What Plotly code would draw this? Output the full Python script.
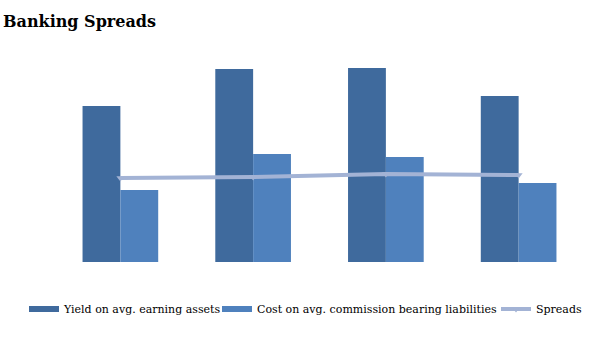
import plotly.graph_objects as go

# Banking spreads by period (percent)
periods = ["P1", "P2", "P3", "P4"]
yield_assets = [7.80, 9.65, 9.70, 8.30]
cost_liabilities = [3.60, 5.40, 5.25, 3.95]
spreads = [4.20, 4.25, 4.40, 4.35]

c_yield = "#3F6A9D"
c_cost = "#4F81BD"
c_spread = "#A3B3D5"
font_family = "DejaVu Serif"

fig = go.Figure()

fig.add_trace(go.Bar(x=periods, y=yield_assets, marker_color=c_yield,
                     marker_line_width=0, offsetgroup="a", showlegend=False,
                     name="Yield on avg. earning assets"))
fig.add_trace(go.Bar(x=periods, y=cost_liabilities, marker_color=c_cost,
                     marker_line_width=0, offsetgroup="b", showlegend=False,
                     name="Cost on avg. commission bearing liabilities"))

# Spread line sits on the shared category axis (midpoint of each bar pair)
fig.add_trace(go.Scatter(x=periods, y=spreads, mode="lines+markers",
                         line=dict(color=c_spread, width=4),
                         marker=dict(symbol="triangle-down", size=7, color=c_spread),
                         showlegend=False, name="Spreads"))

# Legend entries drawn as flat swatches, one legend box per entry
fig.add_trace(go.Scatter(x=[None], y=[None], mode="lines", legend="legend",
                         name="Yield on avg. earning assets",
                         line=dict(color=c_yield, width=6)))
fig.add_trace(go.Scatter(x=[None], y=[None], mode="lines", legend="legend2",
                         name="Cost on avg. commission bearing liabilities",
                         line=dict(color=c_cost, width=6)))
fig.add_trace(go.Scatter(x=[None], y=[None], mode="lines+markers", legend="legend3",
                         name="Spreads",
                         line=dict(color=c_spread, width=4),
                         marker=dict(symbol="triangle-down", size=7, color=c_spread)))

legend_base = dict(orientation="h", xref="container", yref="container",
                   xanchor="left", y=0.091, yanchor="middle",
                   font=dict(family=font_family, size=11), itemwidth=30,
                   bgcolor="rgba(0,0,0,0)")

fig.update_layout(
    width=605, height=340,
    margin=dict(l=53.5, r=19.5, t=40, b=78, autoexpand=False),
    paper_bgcolor="white", plot_bgcolor="white",
    barmode="group", bargap=0.43, bargroupgap=0,
    font=dict(family=font_family, size=11, color="#000000"),
    title=dict(text="<b>Banking Spreads</b>", x=0.005, xanchor="left",
               y=0.937, yanchor="middle",
               font=dict(family=font_family, size=16, color="#000000")),
    legend=dict(legend_base, x=24 / 605),
    legend2=dict(legend_base, x=217 / 605),
    legend3=dict(legend_base, x=496 / 605),
    xaxis=dict(visible=False),
    yaxis=dict(visible=False, range=[0, 11.1]),
)

fig.write_html("out.html")
